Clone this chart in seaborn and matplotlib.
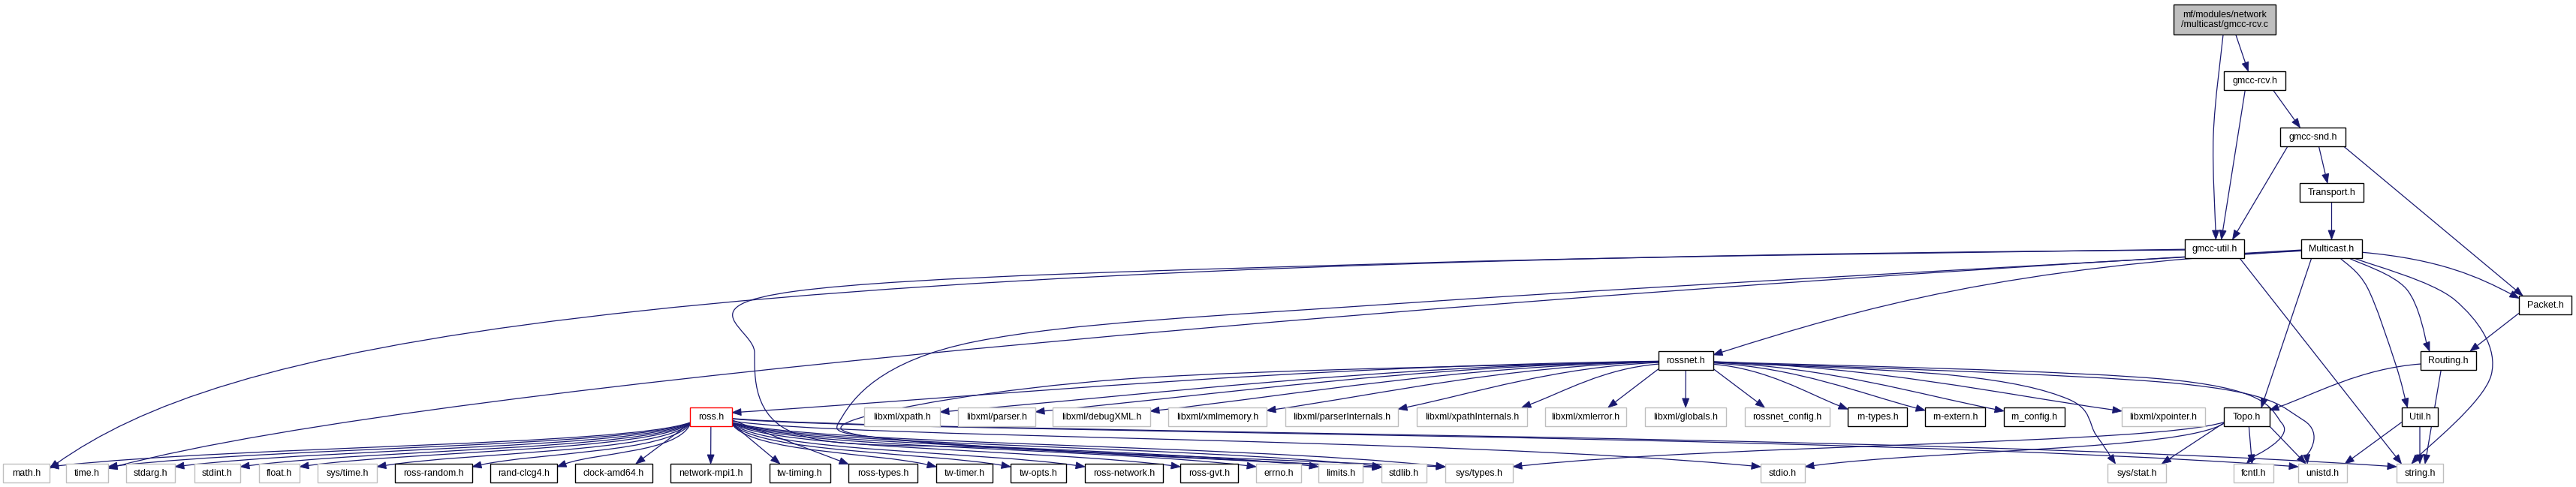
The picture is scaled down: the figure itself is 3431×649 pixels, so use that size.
"""
Include dependency graph for gmcc-rcv.c, drawn the way doxygen/graphviz lays it out.
"""

import numpy as np
import matplotlib
matplotlib.use("Agg")  # no display
import matplotlib.pyplot as plt
from matplotlib.patches import Rectangle, PathPatch, Polygon
from matplotlib.path import Path
import seaborn as sns

# ── Graph data ──────────────────────────────────────────────────────────────
ROOT = "mf/modules/network\n/multicast/gmcc-rcv.c"

DOCUMENTED = [
    "gmcc-rcv.h", "gmcc-snd.h", "Transport.h", "gmcc-util.h", "Multicast.h",
    "Packet.h", "rossnet.h", "Routing.h", "rn-types.h", "rn-extern.h",
    "rn_config.h", "Topo.h", "Util.h", "ross-random.h", "rand-clcg4.h",
    "clock-amd64.h", "network-mpi1.h", "tw-timing.h", "ross-types.h",
    "tw-timer.h", "tw-opts.h", "ross-network.h", "ross-gvt.h",
]
SYSTEM = [
    "libxml/xpath.h", "libxml/parser.h", "libxml/debugXML.h",
    "libxml/xmlmemory.h", "libxml/parserInternals.h", "libxml/xpathInternals.h",
    "libxml/xmlerror.h", "libxml/globals.h", "rossnet_config.h",
    "libxml/xpointer.h", "math.h", "time.h", "stdarg.h", "stdint.h", "float.h",
    "sys/time.h", "errno.h", "limits.h", "stdlib.h", "sys/types.h", "stdio.h",
    "sys/stat.h", "fcntl.h", "unistd.h", "string.h",
]
TRUNCATED = ["ross.h"]

ROOT_INCLUDES = ["gmcc-util.h", "gmcc-rcv.h"]
RCV_INCLUDES = ["gmcc-util.h", "gmcc-snd.h"]
SND_INCLUDES = ["gmcc-util.h", "Transport.h", "Packet.h"]
TRANSPORT_INCLUDES = ["Multicast.h"]
UTIL_INCLUDES = ["math.h", "stdlib.h", "string.h"]
MULTICAST_INCLUDES = ["time.h", "stdlib.h", "rossnet.h", "Packet.h", "Routing.h",
                      "Util.h", "Topo.h", "string.h"]
PACKET_INCLUDES = ["Routing.h"]
ROUTING_INCLUDES = ["Topo.h", "string.h"]
ROSSNET_INCLUDES = [
    "ross.h", "libxml/xpath.h", "libxml/parser.h", "libxml/debugXML.h",
    "libxml/xmlmemory.h", "libxml/parserInternals.h", "libxml/xpathInternals.h",
    "libxml/xmlerror.h", "libxml/globals.h", "rossnet_config.h", "rn-types.h",
    "rn-extern.h", "rn_config.h", "libxml/xpointer.h", "sys/types.h",
    "sys/stat.h", "fcntl.h", "unistd.h",
]
ROSS_INCLUDES = [
    "math.h", "time.h", "stdarg.h", "stdint.h", "float.h", "sys/time.h",
    "ross-random.h", "rand-clcg4.h", "clock-amd64.h", "network-mpi1.h",
    "tw-timing.h", "ross-types.h", "tw-timer.h", "tw-opts.h", "ross-network.h",
    "ross-gvt.h", "errno.h", "limits.h", "stdlib.h", "sys/types.h", "stdio.h",
    "unistd.h", "string.h",
]
TOPO_INCLUDES = ["stdio.h", "sys/types.h", "sys/stat.h", "fcntl.h", "unistd.h"]
UTILH_INCLUDES = ["unistd.h", "string.h"]

EDGES = (
    [(ROOT, t) for t in ROOT_INCLUDES]
    + [("gmcc-rcv.h", t) for t in RCV_INCLUDES]
    + [("gmcc-snd.h", t) for t in SND_INCLUDES]
    + [("Transport.h", t) for t in TRANSPORT_INCLUDES]
    + [("gmcc-util.h", t) for t in UTIL_INCLUDES]
    + [("Multicast.h", t) for t in MULTICAST_INCLUDES]
    + [("Packet.h", t) for t in PACKET_INCLUDES]
    + [("Routing.h", t) for t in ROUTING_INCLUDES]
    + [("rossnet.h", t) for t in ROSSNET_INCLUDES]
    + [("ross.h", t) for t in ROSS_INCLUDES]
    + [("Topo.h", t) for t in TOPO_INCLUDES]
    + [("Util.h", t) for t in UTILH_INCLUDES]
)

# ── Layout (pixel canvas, graphviz ranks) ───────────────────────────────────
W_PX, H_PX = 3431, 649
ROW_TOP = [6, 95, 170, 244, 319, 394, 468, 543, 618]
BOX_H = 25
ROOT_H = 40

# node -> (left, right, rank)
LAYOUT = {
    ROOT: (2895, 3031, 0),
    "gmcc-rcv.h": (2962, 3044, 1),
    "gmcc-snd.h": (3037, 3124, 2),
    "Transport.h": (3063, 3148, 3),
    "gmcc-util.h": (2910, 2989, 4), "Multicast.h": (3065, 3146, 4),
    "Packet.h": (3355, 3425, 5),
    "rossnet.h": (2209, 2282, 6), "Routing.h": (3224, 3298, 6),
    "ross.h": (919, 975, 7), "libxml/xpath.h": (1151, 1252, 7),
    "libxml/parser.h": (1276, 1379, 7), "libxml/debugXML.h": (1402, 1532, 7),
    "libxml/xmlmemory.h": (1556, 1687, 7),
    "libxml/parserInternals.h": (1712, 1862, 7),
    "libxml/xpathInternals.h": (1887, 2034, 7),
    "libxml/xmlerror.h": (2058, 2166, 7), "libxml/globals.h": (2191, 2299, 7),
    "rossnet_config.h": (2324, 2437, 7), "rn-types.h": (2461, 2540, 7),
    "rn-extern.h": (2564, 2644, 7), "rn_config.h": (2669, 2750, 7),
    "libxml/xpointer.h": (2826, 2937, 7), "Topo.h": (2962, 3023, 7),
    "Util.h": (3199, 3247, 7),
    "math.h": (4, 66, 8), "time.h": (88, 144, 8), "stdarg.h": (168, 233, 8),
    "stdint.h": (259, 320, 8), "float.h": (345, 399, 8),
    "sys/time.h": (423, 502, 8), "ross-random.h": (526, 629, 8),
    "rand-clcg4.h": (653, 742, 8), "clock-amd64.h": (766, 869, 8),
    "network-mpi1.h": (893, 1000, 8), "tw-timing.h": (1025, 1106, 8),
    "ross-types.h": (1130, 1222, 8), "tw-timer.h": (1247, 1322, 8),
    "tw-opts.h": (1346, 1420, 8), "ross-network.h": (1445, 1549, 8),
    "ross-gvt.h": (1572, 1649, 8), "errno.h": (1673, 1733, 8),
    "limits.h": (1756, 1815, 8), "stdlib.h": (1840, 1900, 8),
    "sys/types.h": (1925, 2015, 8), "stdio.h": (2345, 2404, 8),
    "sys/stat.h": (2807, 2885, 8), "fcntl.h": (2975, 3028, 8),
    "unistd.h": (3061, 3126, 8), "string.h": (3192, 3254, 8),
}

# splines that graphviz routes around other nodes
ROUTES = {
    ("gmcc-util.h", "stdlib.h"): [(1900, 350), (1060, 388), (1005, 470),
                                  (1060, 578), (1350, 598)],
    ("Multicast.h", "stdlib.h"): [(1900, 402), (1300, 455), (1122, 555),
                                  (1220, 588)],
    ("rossnet.h", "sys/types.h"): [(1500, 505), (1136, 560), (1260, 592)],
    ("rossnet.h", "sys/stat.h"): [(2600, 500), (2755, 532), (2792, 580)],
    ("Multicast.h", "string.h"): [(3270, 400), (3318, 500)],
    ("Multicast.h", "Util.h"): [(3153, 383), (3190, 483)],
    ("Multicast.h", "Routing.h"): [(3205, 385)],
    ("rossnet.h", "fcntl.h"): [(2900, 507), (3040, 565)],
    ("rossnet.h", "unistd.h"): [(2900, 511), (3068, 560)],
    ("root", "gmcc-util.h"): [(2948, 180)],
}
BENDS = {
    ("gmcc-util.h", "math.h"): (0.75, 0.05, 0.08, 0.55),
    ("Multicast.h", "time.h"): (0.35, 0.2, 0.15, 0.4),
}

EDGE_COLOR = "#191970"
ARROW_L, ARROW_W = 12.0, 4.5

sns.set_theme(style="white", rc={"axes.facecolor": "white"})
plt.rcParams["font.family"] = ["Liberation Sans", "DejaVu Sans"]


def box_of(name):
    left, right, rank = LAYOUT[name]
    top = ROW_TOP[rank]
    h = ROOT_H if name == ROOT else BOX_H
    return left, top, right, top + h


def center(b):
    return np.array([(b[0] + b[2]) / 2, (b[1] + b[3]) / 2])


def clip(b, p_in, p_out):
    """Point where the segment p_in -> p_out leaves box b."""
    d = p_out - p_in
    s = np.inf
    if d[0] != 0:
        s = min(s, ((b[2] if d[0] > 0 else b[0]) - p_in[0]) / d[0])
    if d[1] != 0:
        s = min(s, ((b[3] if d[1] > 0 else b[1]) - p_in[1]) / d[1])
    return p_in + min(s, 1.0) * d


def catmull(pts):
    segs = []
    ext = [pts[0]] + pts + [pts[-1]]
    for i in range(1, len(ext) - 2):
        p0, p1, p2, p3 = ext[i - 1], ext[i], ext[i + 1], ext[i + 2]
        segs.append((p1 + (p2 - p0) / 6, p2 - (p3 - p1) / 6, p2))
    return segs


def edge_segments(src, dst):
    sb, tb = box_of(src), box_of(dst)
    sc, tc = center(sb), center(tb)
    srank, trank = LAYOUT[src][2], LAYOUT[dst][2]
    tw, sw = tb[2] - tb[0], sb[2] - sb[0]
    aim = np.array([tc[0] + np.clip(0.15 * (sc[0] - tc[0]), -0.3 * tw, 0.3 * tw),
                    tb[1] + 0.3 * (tb[3] - tb[1])])
    key = ("root" if src == ROOT else src, dst)
    via = [np.array(v, float) for v in ROUTES.get(key, [])]

    if via:
        p0 = clip(sb, sc, via[0])
        p3 = clip(tb, aim, via[-1])
        return p0, catmull([p0] + via + [p3])

    dxc, dyc = tc - sc
    far = abs(dxc) > 3.3 * abs(dyc)

    if far and srank == 7 and trank == 8:
        # leave the side, run along the channel between the two ranks;
        # the farther the target, the higher the edge runs
        right = dxc > 0
        reach = min(abs(dxc) / 2500, 1.0)
        sh = sb[3] - sb[1]
        p0 = np.array([sb[2] if right else sb[0], sb[1] + sh * (0.95 - 0.4 * reach)])
        p3 = np.array([tb[0] if right else tb[2], tb[1] + 4])
        dx = p3[0] - p0[0]
        lane = float(np.clip(603 - (abs(dx) - 400) * 0.02, 577, 603))
        return p0, [(np.array([p0[0] + 0.1 * dx, lane]),
                     np.array([p3[0] - 0.3 * dx, lane]), p3)]

    s_aim = np.array([sc[0] + np.clip(0.2 * dxc, -0.3 * sw, 0.3 * sw), sc[1]])
    p0 = clip(sb, s_aim, aim)
    p3 = clip(tb, aim, p0)
    dx, dy = p3 - p0
    if not far:
        return p0, [(p0 + (p3 - p0) / 3, p0 + 2 * (p3 - p0) / 3, p3)]
    if srank == 6 and trank == 7:
        a, b, c, d = 0.4, 0.1, 0.3, 0.35
    else:
        a, b, c, d = BENDS.get(key, (0.5, 0.15, 0.25, 0.45))
    return p0, [(p0 + np.array([a * dx, b * dy]),
                 p3 - np.array([c * dx, d * dy]), p3)]


def draw_edge(ax, src, dst):
    p0, segs = edge_segments(src, dst)
    c2, tip = segs[-1][1], segs[-1][2]
    u = tip - c2
    u = u / np.hypot(*u)
    n = np.array([-u[1], u[0]])
    base = tip - ARROW_L * u
    segs[-1] = (segs[-1][0], c2, base)

    verts = [p0]
    codes = [Path.MOVETO]
    for c1_, c2_, e in segs:
        verts += [c1_, c2_, e]
        codes += [Path.CURVE4] * 3
    ax.add_patch(PathPatch(Path(verts, codes), fill=False, edgecolor=EDGE_COLOR,
                           linewidth=0.9, zorder=1))
    ax.add_patch(Polygon([tip, base + ARROW_W * n, base - ARROW_W * n],
                         closed=True, facecolor=EDGE_COLOR, edgecolor=EDGE_COLOR,
                         linewidth=0.6, zorder=2))


def draw_node(ax, name):
    b = box_of(name)
    if name == ROOT:
        face, edge = "#bfbfbf", "black"
    elif name in TRUNCATED:
        face, edge = "white", "#ff0000"
    elif name in SYSTEM:
        face, edge = "white", "#bfbfbf"
    else:
        face, edge = "white", "black"
    ax.add_patch(Rectangle((b[0], b[1]), b[2] - b[0], b[3] - b[1],
                           facecolor=face, edgecolor=edge, linewidth=1.0, zorder=3))
    c = center(b)
    ax.text(c[0], c[1] + 0.5, name, ha="center", va="center", fontsize=9,
            color="black", linespacing=1.15, zorder=4)


fig = plt.figure(figsize=(W_PX / 100, H_PX / 100), dpi=100)
ax = fig.add_axes([0, 0, 1, 1])
ax.set_xlim(0, W_PX)
ax.set_ylim(H_PX, 0)
ax.axis("off")

for src, dst in EDGES:
    draw_edge(ax, src, dst)
for name in LAYOUT:
    draw_node(ax, name)

fig.savefig("out.png", dpi=100, facecolor="white")
plt.close(fig)
